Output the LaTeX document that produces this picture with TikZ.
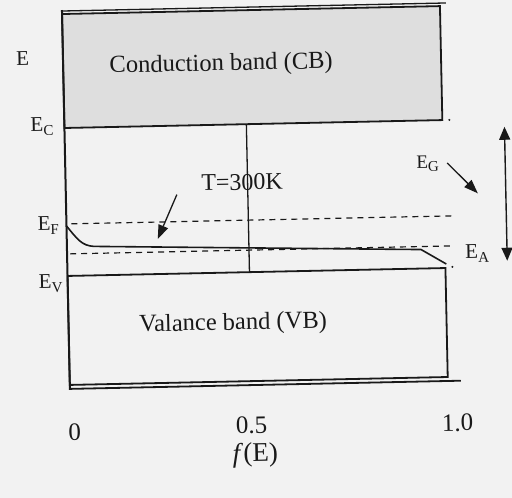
\documentclass[tikz,border=0pt]{standalone}
\usepackage{fontspec}
\setmainfont{Liberation Serif}
\usetikzlibrary{arrows.meta}
\definecolor{paper}{gray}{0.95}
\definecolor{cbfill}{gray}{0.87}
\definecolor{ink}{gray}{0.1}
\newcommand\lowsub[1]{\raisebox{-0.45ex}{\fontsize{15}{17}\selectfont #1}}
\begin{document}
\begin{tikzpicture}[x=1pt,y={(0pt,-1pt)},
  band/.style={draw=ink,line width=1.8pt},
  axisline/.style={draw=ink,line width=2pt},
  level/.style={draw=ink,line width=1.2pt,dash pattern=on 6pt off 5pt},
  lbl/.style={text=ink,inner sep=0pt,anchor=base west,font=\fontsize{21}{24}\selectfont},
  bandtext/.style={text=ink,inner sep=0pt,font=\fontsize{24.5}{28}\selectfont},
  tick/.style={text=ink,inner sep=0pt,font=\fontsize{25}{28}\selectfont},
  pointer/.style={draw=ink,line width=1.3pt,-{Triangle[length=14pt,width=10pt]}},
]
\fill[paper] (0,0) rectangle (512,498);
\useasboundingbox (0,0) rectangle (512,498);
\begin{scope}[rotate around={1.2:(256,249)},transform shape]
  % conduction band
  \draw[band,fill=cbfill] (67,10) rectangle (445,124);
  \draw[draw=ink,line width=1.3pt] (67,7) -- (451,7);
  % valence band
  \draw[band] (67,272) rectangle (445,381);
  \coordinate (bl) at (67,385);
  \coordinate (br) at (458,385);
  \draw[band] (bl) -- (br);
  % axis
  \coordinate (axtop) at (67,6);
  \coordinate (axbot) at (67,386);
  \draw[axisline] (axtop) -- (axbot);
  % half line
  \coordinate (htop) at (249,124);
  \coordinate (hbot) at (249,272);
  \draw[draw=ink,line width=1.3pt] (htop) -- (hbot);
  % levels
  \coordinate (efl) at (72,220);
  \coordinate (efr) at (452,220);
  \coordinate (eal) at (70,250);
  \coordinate (ear) at (452,250);
  \draw[level] (efl) -- (efr);
  \draw[level] (eal) -- (ear);
  \fill[ink] (452,124) circle (1.1pt);
  \fill[ink] (452,271) circle (1.1pt);
  % Fermi curve
  \coordinate (fstart) at (67,222);
  \coordinate (fend) at (446,268);
  \draw[draw=ink,line width=1.6pt] (fstart) .. controls (78,236) and (82,242) .. (94,243) -- (421,253) -- (fend);
  % labels
  \node[lbl] (E) at (20,61) {E};
  \node[lbl] (EC) at (33,127) {E\lowsub{C}};
  \node[lbl] (EF) at (38,225.5) {E\lowsub{F}};
  \node[lbl] (EV) at (38,283.5) {E\lowsub{V}};
  \node[lbl,font=\fontsize{19}{22}\selectfont] (EG) at (418,171.5) {E\lowsub{G}};
  \node[lbl] (EA) at (465,262.5) {E\lowsub{A}};
  \node[bandtext] (CB) at (225,64) {Conduction band (CB)};
  \node[bandtext] (VB) at (231.5,323.5) {Valance band (VB)};
  \node[bandtext,font=\fontsize{24}{28}\selectfont] (T) at (243.5,182) {T=300K};
  % pointers
  \coordinate (ta) at (178,193);
  \coordinate (tb) at (158,237);
  \draw[pointer] (ta) -- (tb);
  \coordinate (ga) at (449,167);
  \coordinate (gb) at (479,198);
  \draw[pointer] (ga) -- (gb);
  \coordinate (gt) at (507,132);
  \coordinate (gbt) at (507,266);
  \draw[draw=ink,line width=1.4pt,{Triangle[length=13pt,width=11pt]}-{Triangle[length=13pt,width=11pt]}] (gt) -- (gbt);
  % ticks
  \node[tick] (t0) at (71,428) {0};
  \node[tick] (t5) at (248,425) {0.5};
  \node[tick] (t1) at (454,427) {1.0};
  \node[tick,font=\fontsize{27}{30}\selectfont] (fe) at (251,455) {\textit{f}(E)};
\end{scope}
\end{tikzpicture}
\end{document}
